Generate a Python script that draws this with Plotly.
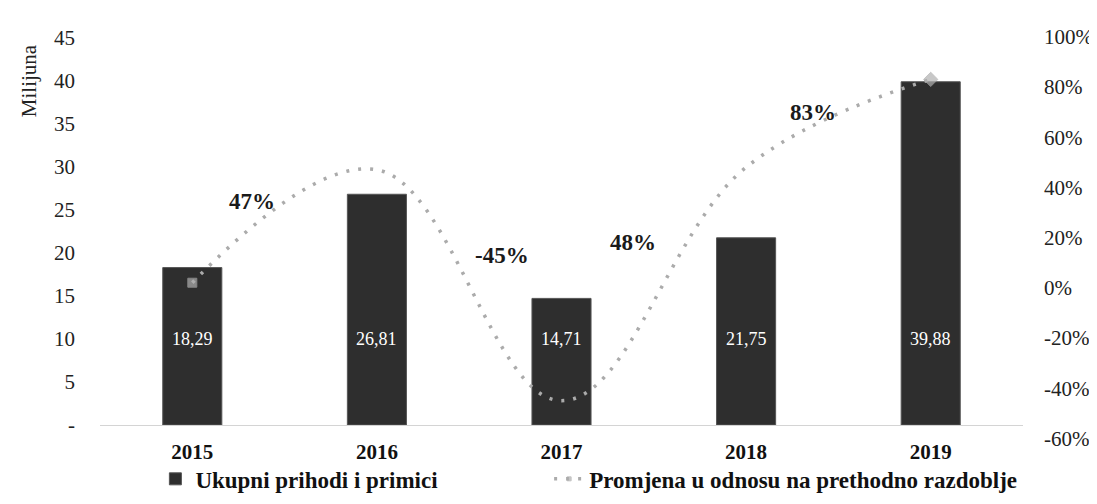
import plotly.graph_objects as go

years = ["2015", "2016", "2017", "2018", "2019"]
revenue = [18.29, 26.81, 14.71, 21.75, 39.88]
revenue_labels = ["18,29", "26,81", "14,71", "21,75", "39,88"]
change_pct = [2, 47, -45, 48, 83]
change_labels = ["", "47%", "-45%", "48%", "83%"]
left_ticks = [0, 5, 10, 15, 20, 25, 30, 35, 40, 45]
left_ticktext = ["-", "5", "10", "15", "20", "25", "30", "35", "40", "45"]
right_ticks = [-60, -40, -20, 0, 20, 40, 60, 80, 100]
right_ticktext = ["-60%", "-40%", "-20%", "0%", "20%", "40%", "60%", "80%", "100%"]

SERIF = "Liberation Serif"

fig = go.Figure()
fig.add_trace(go.Bar(
    x=years, y=revenue, name="Ukupni prihodi i primici",
    marker=dict(color="#2e2e2e", line=dict(color="#555555", width=1)),
    width=0.32, xaxis="x", yaxis="y", legend="legend",
))
fig.add_trace(go.Scatter(
    x=years, y=change_pct, name="Promjena u odnosu na prethodno razdoblje",
    mode="lines+markers", xaxis="x", yaxis="y2", legend="legend2",
    line=dict(color="#ababab", width=3.5, dash="3px,9px", shape="spline", smoothing=1.1),
    marker=dict(symbol=["square", "diamond", "diamond", "diamond", "diamond"],
                color="#b0b0b0", size=[9, 0, 0, 0, 11]),
))

annotations = []
for i, t in enumerate(revenue_labels):
    annotations.append(dict(x=i, y=10, xref="x", yref="y", text=t, showarrow=False,
                            font=dict(family=SERIF, size=18, color="white")))

shifts = [(0, 0), (-125, -32), (-60, 145), (-113, -75), (-118, -33)]
for i, (v, t, (dx, dy)) in enumerate(zip(change_pct, change_labels, shifts)):
    if t:
        annotations.append(dict(x=i, y=v, xref="x", yref="y2", text="<b>" + t + "</b>",
                                showarrow=False, xshift=dx, yshift=dy,
                                font=dict(family=SERIF, size=23, color="#1a1a1a")))

annotations.append(dict(x=-0.0773, y=0.8825, xref="paper", yref="paper", xanchor="center",
                        yanchor="middle", text="Milijuna", textangle=-90, showarrow=False,
                        font=dict(family=SERIF, size=21, color="#222")))

legend_font = dict(family=SERIF, size=23, color="#111", weight="bold")

fig.update_layout(
    width=1097, height=504,
    margin=dict(l=92, r=74, t=20, b=50),
    paper_bgcolor="white", plot_bgcolor="rgba(0,0,0,0)",
    font=dict(family=SERIF, color="#222"),
    showlegend=True,
    legend=dict(orientation="h", x=0.06, y=-0.03, xanchor="left", yanchor="top",
                font=legend_font, bgcolor="rgba(0,0,0,0)"),
    legend2=dict(orientation="h", x=0.4866, y=-0.03, xanchor="left", yanchor="top",
                 font=legend_font, bgcolor="rgba(0,0,0,0)"),
    xaxis=dict(type="category", range=[-0.5, 4.5], domain=[0, 1], anchor="y",
               showgrid=False, showline=True, linecolor="#d4d4d4", linewidth=1,
               tickfont=dict(family=SERIF, size=21, color="#111", weight="bold"),
               ticks="", ticklabelstandoff=8),
    yaxis=dict(range=[0, 45], domain=[0.0484, 0.9862], anchor="x",
               tickvals=left_ticks, ticktext=left_ticktext,
               showgrid=False, zeroline=False, showline=False, ticks="",
               tickfont=dict(family=SERIF, size=21, color="#222"), ticklabelstandoff=24),
    yaxis2=dict(range=[-60, 100], domain=[0.0161, 0.9885], anchor="x", side="right",
                tickvals=right_ticks, ticktext=right_ticktext,
                showgrid=False, zeroline=False, showline=False, ticks="",
                tickfont=dict(family=SERIF, size=21, color="#222"), ticklabelstandoff=20),
    annotations=annotations,
)

fig.write_html("out.html")
